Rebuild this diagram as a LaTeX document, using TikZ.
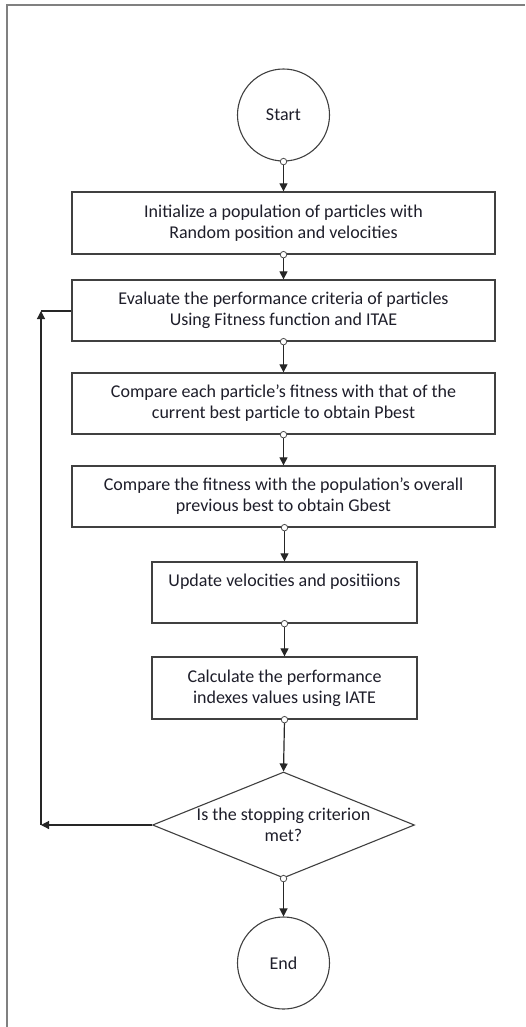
\documentclass[tikz,border=0pt]{standalone}
\usepackage{fontspec}
\setmainfont{Carlito}
\usetikzlibrary{shapes.geometric,arrows.meta}
\definecolor{framegray}{HTML}{808080}
\definecolor{boxline}{HTML}{404040}
\definecolor{txtcol}{HTML}{1E1E2A}
\tikzset{
  boxnode/.style={draw=boxline, line width=1.3bp, fill=white, minimum width=423bp, minimum height=61bp, inner sep=0pt},
  smallbox/.style={boxnode, minimum width=265bp},
  termnode/.style={circle, draw=boxline, line width=1.1bp, minimum size=92bp, inner sep=0pt},
  txt/.style={align=center, text=txtcol, font=\fontsize{18bp}{21bp}\selectfont, inner sep=0pt},
  arr/.style={draw=black!85, line width=1.2bp, -{Triangle[length=8bp,width=8bp]}},
  plain/.style={draw=black!85, line width=1.2bp},
  cdot/.style={circle, draw=black!70, fill=white, line width=0.8bp, minimum size=6.5bp, inner sep=0pt},
}
\begin{document}
\begin{tikzpicture}[x=1bp,y=-1bp]
\useasboundingbox (0,0) rectangle (526,1027);
\fill[white] (0,0) rectangle (526,1027);
% frame
\draw[framegray, line width=2bp] (7,1027) -- (7,5) -- (525,5);

% nodes
\node[termnode] (start) at (283.5,115) {};
\node[txt] (starttxt) at (start.center) {Start};
\node[boxnode, minimum height=62bp] (b1) at (283.5,223) {};
\node[txt] (b1txt) at (b1.center) {Initialize a population of particles with\\Random position and velocities};
\node[boxnode] (b2) at (283.5,310.5) {};
\node[txt] (b2txt) at (b2.center) {Evaluate the performance criteria of particles\\Using Fitness function and ITAE};
\node[boxnode] (b3) at (283.5,403.5) {};
\node[txt] (b3txt) at (b3.center) {Compare each particle’s fitness with that of the\\current best particle to obtain Pbest};
\node[boxnode] (b4) at (283.5,496.5) {};
\node[txt] (b4txt) at (b4.center) {Compare the fitness with the population’s overall\\previous best to obtain Gbest};
\node[smallbox] (b5) at (284.5,592.5) {};
\node[txt] (b5txt) at (284.5,582) {Update velocities and positiions};
\node[smallbox, minimum height=62bp] (b6) at (284.5,688) {};
\node[txt] (b6txt) at (b6.center) {Calculate the performance\\indexes values using IATE};
\node[diamond, draw=boxline, line width=1.1bp, fill=white, minimum width=262bp, minimum height=106bp, inner sep=0pt] (dec) at (283.5,825) {};
\node[txt] (dectxt) at (dec.center) {Is the stopping criterion\\met?};
\node[termnode] (end) at (283.5,963) {};
\node[txt] (endtxt) at (end.center) {End};

\coordinate (fbL) at (41,825);
\coordinate (fbT) at (41,311);

% connectors
\draw[arr] (start.south) -- (b1.north);
\draw[arr] (b1.south) -- (b2.north);
\draw[arr] (b2.south) -- (b3.north);
\draw[arr] (b3.south) -- (b4.north);
\draw[arr] (b4.south -| b5.north) -- (b5.north);
\draw[arr] (b5.south) -- (b6.north);
\draw[arr] (b6.south) -- (dec.north);
\draw[arr] (dec.south) -- (end.north);
\draw[arr] (dec.west) -- (fbL);
\draw[arr] (fbL) -- (fbT);
\draw[plain] (fbT) -- (b2.west |- fbT);

% connection dots
\node[cdot] (d0) at (start.south) {};
\node[cdot] (d1) at (b1.south) {};
\node[cdot] (d2) at (b2.south) {};
\node[cdot] (d3) at (b3.south) {};
\node[cdot] (d4) at (b4.south -| b5.north) {};
\node[cdot] (d5) at (b5.south) {};
\node[cdot] (d6) at (b6.south) {};
\node[cdot] (d7) at (dec.south) {};
\end{tikzpicture}
\end{document}
